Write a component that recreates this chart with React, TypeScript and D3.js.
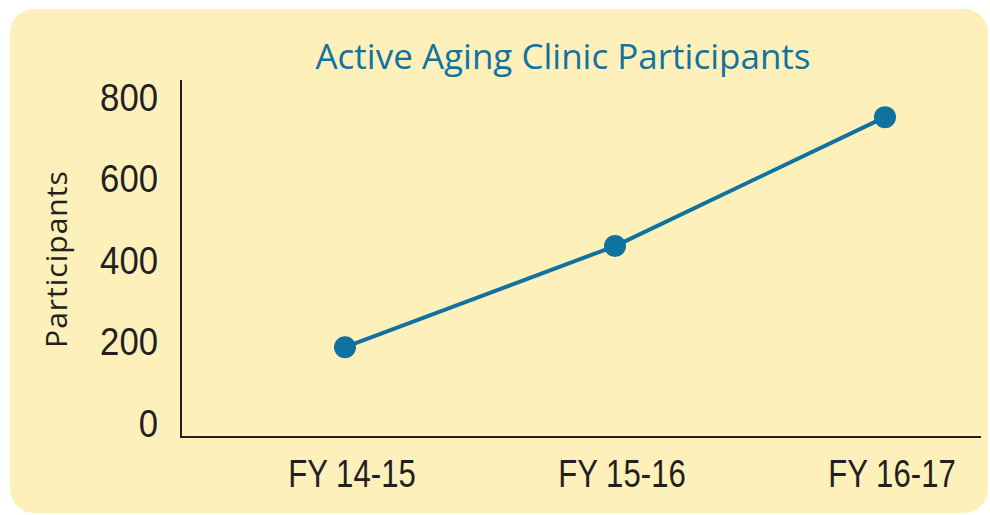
import React from "react";
import * as d3 from "d3";

const width = 990;
const height = 515;

const categories = ["FY 14-15", "FY 15-16", "FY 16-17"];
const participants = [220, 468, 784];
const yTicks = [0, 200, 400, 600, 800];

const title = "Active Aging Clinic Participants";
const yTitle = "Participants";

const bg = "#fef0bb";
const blue = "#10739f";
const ink = "#231f20";
const humanist = "'Open Sans', Lato, sans-serif";
const numFont = "'Liberation Sans', Arial, sans-serif";

export default function App() {
  // scales
  const x = d3.scalePoint<string>().domain(categories).range([345, 885]);
  const y = d3.scaleLinear().domain([0, 875]).range([437, 80]);

  const line = d3
    .line<number>()
    .x((d, i) => x(categories[i]) as number)
    .y(d => y(d));

  const axisLeft = 181;

  return (
    <svg
      width={width}
      height={height}
      style={{ position: "absolute", left: 0, top: 0, display: "block" }}
    >
      <rect x={10} y={9} width={978} height={504} rx={24} fill={bg} />

      <text
        x={563}
        y={69}
        textAnchor="middle"
        fill={blue}
        fontFamily={humanist}
        fontSize={35}
      >
        {title}
      </text>

      {/* y axis title, sits a bit above the plot middle in the original */}
      <text
        transform={"translate(67," + y(436) + ") rotate(-90)"}
        textAnchor="middle"
        fill={ink}
        fontFamily={humanist}
        fontSize={30}
        letterSpacing={1}
      >
        {yTitle}
      </text>

      {/* y tick labels */}
      {yTicks.map(t => (
        <text
          key={t}
          transform={"translate(158," + y(t) + ") scale(0.89,1)"}
          textAnchor="end"
          fill={ink}
          fontFamily={numFont}
          fontSize={39}
        >
          {t}
        </text>
      ))}

      {/* x tick labels */}
      {categories.map(c => (
        <text
          key={c}
          transform={"translate(" + ((x(c) as number) + 7) + ",487) scale(0.82,1)"}
          textAnchor="middle"
          fill={ink}
          fontFamily={numFont}
          fontSize={38}
        >
          {c}
        </text>
      ))}

      {/* axes */}
      <path
        d={`M${axisLeft},${y.range()[1]}V${y(0)}H981`}
        fill="none"
        stroke={ink}
        strokeWidth={2}
      />

      <path d={line(participants) || ""} fill="none" stroke={blue} strokeWidth={4} />
      {participants.map((v, i) => (
        <circle key={i} cx={x(categories[i])} cy={y(v)} r={11} fill={blue} />
      ))}
    </svg>
  );
}
